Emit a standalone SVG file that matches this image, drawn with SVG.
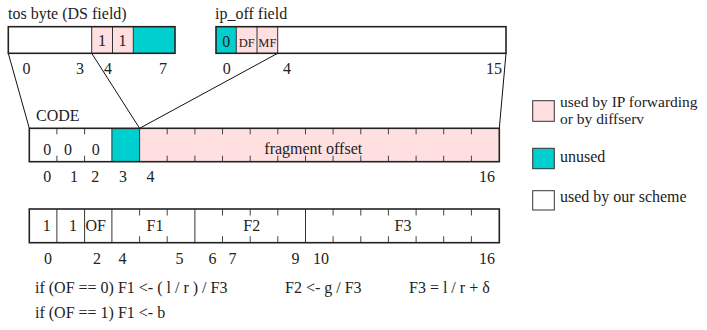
<svg xmlns="http://www.w3.org/2000/svg" width="707" height="330" viewBox="0 0 707 330">
<style>
text{font-family:"Liberation Serif","Times New Roman",serif;font-size:16px;fill:#222}
.m{text-anchor:middle}
.out{fill:none;stroke:#222;stroke-width:1.6}
.div{stroke:#333;stroke-width:1}
.tk{stroke:#444;stroke-width:1}
.pink{fill:#ffdfdf}
.cyan{fill:#00cfcf}
.white{fill:#fff}
.sm{font-size:12.5px}
.lg{font-size:15.5px}
.ln{stroke:#111;stroke-width:1;fill:none}
</style>
<rect width="707" height="330" fill="#fff"/>

<g id="tos-byte">
<text x="8" y="18.5">tos byte (DS field)</text>
<rect class="white" x="8.3" y="26.7" width="83.4" height="26.6"/>
<rect class="pink" x="91.7" y="26.7" width="41.6" height="26.6"/>
<rect class="cyan" x="133.3" y="26.7" width="41.7" height="26.6"/>
<line class="div" x1="91.7" y1="26.7" x2="91.7" y2="53.3"/>
<line class="div" x1="112.5" y1="26.7" x2="112.5" y2="53.3"/>
<line class="div" x1="133.3" y1="26.7" x2="133.3" y2="53.3"/>
<rect class="out" x="8.3" y="26.7" width="166.7" height="26.6"/>
<text class="m" x="102" y="46">1</text>
<text class="m" x="122.5" y="46">1</text>
<text class="m" x="26.5" y="74">0</text>
<text class="m" x="80" y="74">3</text>
<text class="m" x="108" y="74">4</text>
<text class="m" x="163" y="74">7</text>
</g>

<g id="ip-off">
<text x="215" y="18.5">ip_off field</text>
<rect class="white" x="216" y="26.7" width="290" height="26.6"/>
<rect class="cyan" x="216" y="26.7" width="20.3" height="26.6"/>
<rect class="pink" x="236.3" y="26.7" width="41.4" height="26.6"/>
<line class="div" x1="236.3" y1="26.7" x2="236.3" y2="53.3"/>
<line class="div" x1="257" y1="26.7" x2="257" y2="53.3"/>
<line class="div" x1="277.7" y1="26.7" x2="277.7" y2="53.3"/>
<rect class="out" x="216" y="26.7" width="290" height="26.6"/>
<text class="m" x="226.3" y="46.7">0</text>
<text class="m sm" x="246.7" y="46.7">DF</text>
<text class="m sm" x="267.4" y="46.7">MF</text>
<text class="m" x="226.7" y="74">0</text>
<text class="m" x="287" y="74">4</text>
<text class="m" x="494" y="74">15</text>
</g>

<g id="connectors">
<line class="ln" x1="8.3" y1="53.3" x2="29.3" y2="128.3"/>
<line class="ln" x1="91.7" y1="53.3" x2="139.6" y2="128.3"/>
<line class="ln" x1="277.7" y1="53.3" x2="139.6" y2="128.3"/>
<line class="ln" x1="506" y1="53.3" x2="499.3" y2="128.3"/>
</g>

<g id="code">
<text x="36" y="121">CODE</text>
<rect class="white" x="29.3" y="128.3" width="82.6" height="33.4"/>
<rect class="cyan" x="111.9" y="128.3" width="27.7" height="33.4"/>
<rect class="pink" x="139.6" y="128.3" width="359.7" height="33.4"/>
<line class="div" x1="111.9" y1="128.3" x2="111.9" y2="161.7"/>
<line class="div" x1="139.6" y1="128.3" x2="139.6" y2="161.7"/>
<path class="tk" d="M56.9 128.3v6M84.6 128.3v6M167.2 128.3v6M194.9 128.3v6M222.5 128.3v6M250.2 128.3v6M277.8 128.3v6M305.5 128.3v6M333.1 128.3v6M360.8 128.3v6M388.4 128.3v6M416.1 128.3v6M443.7 128.3v6M471.4 128.3v6
M56.9 161.7v-6M84.6 161.7v-6M167.2 161.7v-6M194.9 161.7v-6M222.5 161.7v-6M250.2 161.7v-6M277.8 161.7v-6M305.5 161.7v-6M333.1 161.7v-6M360.8 161.7v-6M388.4 161.7v-6M416.1 161.7v-6M443.7 161.7v-6M471.4 161.7v-6"/>
<rect class="out" x="29.3" y="128.3" width="470" height="33.4"/>
<text class="m" x="47.3" y="154.5">0</text>
<text class="m" x="68" y="154.5">0</text>
<text class="m" x="95.7" y="154.5">0</text>
<text x="264.3" y="154">fragment offset</text>
<text class="m" x="47.3" y="181.7">0</text>
<text class="m" x="74" y="181.7">1</text>
<text class="m" x="95.3" y="181.7">2</text>
<text class="m" x="123" y="181.7">3</text>
<text class="m" x="150.5" y="181.7">4</text>
<text class="m" x="487" y="181.7">16</text>
</g>

<g id="scheme">
<rect class="white" x="29.3" y="209" width="470" height="33.7"/>
<path class="div" d="M56.9 209v33.7M84.6 209v33.7M111.9 209v33.7M194.9 209v33.7M305.5 209v33.7"/>
<path class="tk" d="M139.6 209v6.5M167.2 209v6.5M222.5 209v6.5M250.2 209v6.5M277.8 209v6.5M333.1 209v6.5M360.8 209v6.5M388.4 209v6.5M416.1 209v6.5M443.7 209v6.5M471.4 209v6.5
M139.6 242.7v-6.5M167.2 242.7v-6.5M222.5 242.7v-6.5M250.2 242.7v-6.5M277.8 242.7v-6.5M333.1 242.7v-6.5M360.8 242.7v-6.5M388.4 242.7v-6.5M416.1 242.7v-6.5M443.7 242.7v-6.5M471.4 242.7v-6.5"/>
<rect class="out" x="29.3" y="209" width="470" height="33.7"/>
<text class="m" x="46.7" y="230.5">1</text>
<text class="m" x="73" y="230.5">1</text>
<text x="85.5" y="230.5">OF</text>
<text class="m" x="155" y="230.5">F1</text>
<text class="m" x="251.7" y="230.5">F2</text>
<text class="m" x="403" y="230.5">F3</text>
<text class="m" x="48" y="264">0</text>
<text class="m" x="97" y="264">2</text>
<text class="m" x="122.5" y="264">4</text>
<text class="m" x="179.5" y="264">5</text>
<text class="m" x="212.5" y="264">6</text>
<text class="m" x="232.5" y="264">7</text>
<text class="m" x="295.5" y="264">9</text>
<text class="m" x="321" y="264">10</text>
<text class="m" x="487" y="264">16</text>
</g>

<g id="formulas">
<text x="35" y="293">if (OF == 0) F1 &lt;- ( l / r ) / F3</text>
<text x="285" y="293">F2 &lt;- g / F3</text>
<text x="409" y="293">F3 = l / r + δ</text>
<text x="35" y="318">if (OF == 1) F1 &lt;- b</text>
</g>

<g id="legend">
<rect class="pink" x="532.7" y="100.7" width="21.6" height="20.6" stroke="#333" stroke-width="1"/>
<text class="lg" x="560" y="106.5">used by IP forwarding</text>
<text class="lg" x="560" y="124">or by diffserv</text>
<rect class="cyan" x="532.7" y="148.3" width="21.6" height="20.4" stroke="#333" stroke-width="1"/>
<text x="560" y="161.7">unused</text>
<rect class="white" x="532.7" y="190.7" width="21.6" height="19.3" stroke="#333" stroke-width="1"/>
<text x="560" y="201.7">used by our scheme</text>
</g>
</svg>
